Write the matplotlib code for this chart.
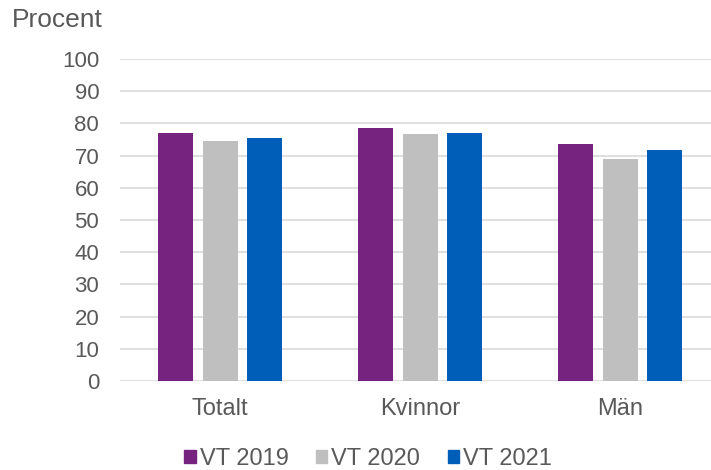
import numpy as np
import matplotlib

matplotlib.use("Agg")
import matplotlib.pyplot as plt
from matplotlib.patches import Patch

categories = ["Totalt", "Kvinnor", "Män"]
series = ["VT 2019", "VT 2020", "VT 2021"]
vt2019 = [77.0, 78.6, 73.6]
vt2020 = [74.5, 76.7, 68.9]
vt2021 = [75.5, 77.0, 71.7]
colors = ["#76237f", "#bfbfbf", "#005eb8"]

plt.rcParams["font.family"] = ["Liberation Sans", "DejaVu Sans"]
text_col = "#595959"

fig = plt.figure(figsize=(7.11, 4.70), dpi=100)
ax = fig.add_axes([120 / 711, 1 - 381 / 470, 600 / 711, 322 / 470])

x = np.arange(len(categories))
width = 0.175
offsets = [-0.2225, 0.0, 0.2225]
for vals, off, col, name in zip([vt2019, vt2020, vt2021], offsets, colors, series):
    ax.bar(x + off, vals, width, color=col, label=name, zorder=3)

ax.set_xlim(-0.5, 2.5)
ax.set_ylim(0, 100)
ax.set_yticks(range(0, 101, 10))
ax.set_xticks(x)
ax.set_xticklabels(categories)
ax.grid(axis="y", color="#d9d9d9", lw=1.2, zorder=0)
for s in ax.spines.values():
    s.set_visible(False)
ax.tick_params(length=0, labelcolor=text_col)
ax.tick_params(axis="y", labelsize=16, pad=15)
ax.tick_params(axis="x", labelsize=17, pad=12)

fig.text(12 / 711, 1 - 20 / 470, "Procent", fontsize=19, color=text_col,
         va="center", ha="left")

handles = [Patch(color=c) for c in colors]
leg = fig.legend(handles, series, loc="center", ncol=3, frameon=False,
                 bbox_to_anchor=(368 / 711, 1 - 459 / 470),
                 handlelength=0.5, handleheight=0.5, handletextpad=0.17,
                 columnspacing=1.15, fontsize=17, borderpad=0)
for t in leg.get_texts():
    t.set_color(text_col)

fig.savefig("out.png", dpi=100)
